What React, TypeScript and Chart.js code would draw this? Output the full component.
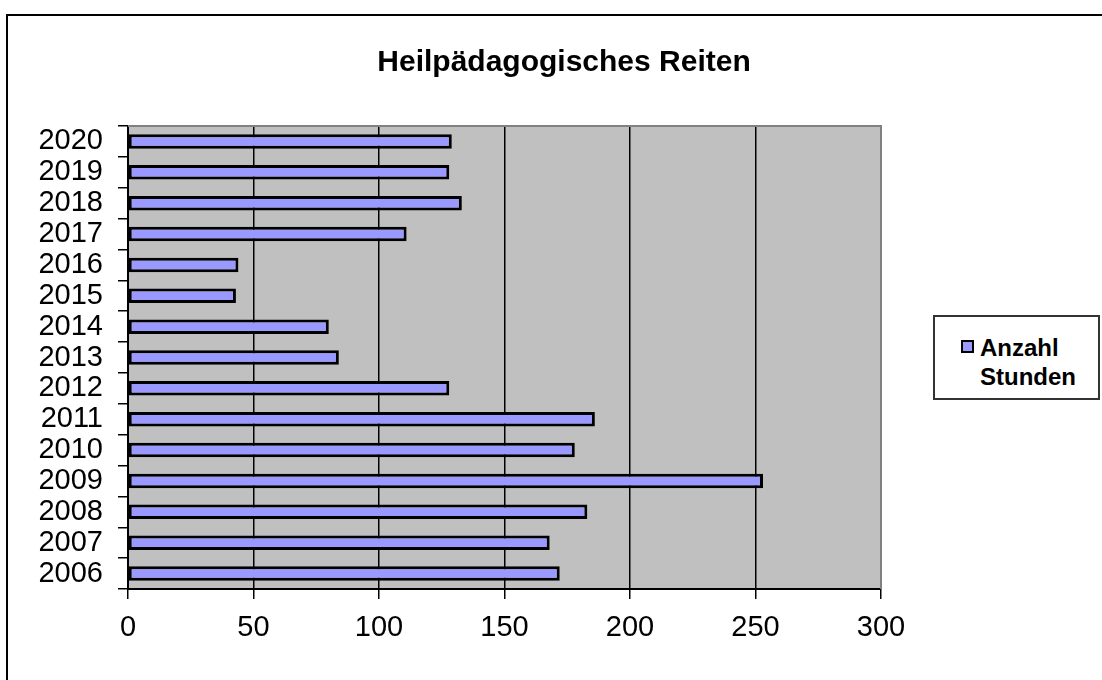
import React, { useEffect, useRef } from "react";
import { Chart, registerables } from "chart.js";

Chart.register(...registerables);

const years: string[] = ["2006", "2007", "2008", "2009", "2010", "2011", "2012", "2013", "2014", "2015", "2016", "2017", "2018", "2019", "2020"];
const stunden: number[] = [172, 168, 183, 253, 178, 186, 128, 84, 80, 43, 44, 111, 133, 128, 129];
const chartTitle = "Heilpädagogisches Reiten";
const seriesLabel = ["Anzahl", "Stunden"];
const xMin = 0;
const xMax = 300;
const xStep = 50;

const FONT = "'Liberation Sans', Arial, Helvetica, sans-serif";

const plotBg = {
  id: "plotBg",
  beforeDraw(chart: any) {
    const { ctx, chartArea } = chart;
    ctx.save();
    ctx.fillStyle = "#C0C0C0";
    ctx.fillRect(chartArea.left, chartArea.top, chartArea.right - chartArea.left, chartArea.bottom - chartArea.top);
    ctx.restore();
  },
  afterDraw(chart: any) {
    const { ctx, chartArea } = chart;
    ctx.save();
    ctx.strokeStyle = "#808080";
    ctx.lineWidth = 2;
    ctx.beginPath();
    ctx.moveTo(chartArea.left, chartArea.top);
    ctx.lineTo(chartArea.right, chartArea.top);
    ctx.lineTo(chartArea.right, chartArea.bottom);
    ctx.stroke();
    ctx.restore();
  },
};

export default function App() {
  const canvasRef = useRef<HTMLCanvasElement | null>(null);

  useEffect(() => {
    const canvas = canvasRef.current;
    if (!canvas) return;
    const chart = new Chart(canvas, {
      type: "bar",
      data: {
        labels: years,
        datasets: [
          {
            label: seriesLabel.join(" "),
            data: stunden,
            backgroundColor: "#9999FF",
            borderColor: "#000000",
            borderWidth: 3,
            borderSkipped: false,
            barPercentage: 0.47,
            categoryPercentage: 1,
          },
        ],
      },
      plugins: [plotBg],
      options: {
        indexAxis: "y",
        responsive: false,
        animation: false,
        devicePixelRatio: 1,
        layout: { padding: { left: 26, right: 0, top: 0, bottom: 0 } },
        plugins: {
          legend: { display: false },
          tooltip: { enabled: false },
          title: {
            display: true,
            text: chartTitle,
            color: "#000",
            font: { family: FONT, size: 30, weight: "bold", lineHeight: 1.2 },
            padding: { top: 45, bottom: 45 },
          },
        },
        scales: {
          x: {
            type: "linear",
            position: "bottom",
            min: xMin,
            max: xMax,
            ticks: {
              stepSize: xStep,
              color: "#000",
              padding: 12,
              font: { family: FONT, size: 29 },
            },
            grid: {
              color: (c: any) => (c.tick && c.tick.value === xMax ? "rgba(0,0,0,0)" : "#000"),
              lineWidth: 1.5,
              tickColor: "#000",
              tickLength: 10,
              drawTicks: true,
            },
            border: { display: true, color: "#000", width: 2 },
            afterFit: (s: any) => {
              s.height = 91;
            },
          },
          y: {
            type: "category",
            position: "left",
            reverse: true,
            ticks: {
              color: "#000",
              padding: 15,
              autoSkip: false,
              font: { family: FONT, size: 29 },
            },
            grid: {
              offset: true,
              drawOnChartArea: false,
              drawTicks: true,
              tickLength: 10,
              color: "#000",
              tickColor: "#000",
              lineWidth: 1.5,
            },
            border: { display: true, color: "#000", width: 2 },
            afterFit: (s: any) => {
              s.width = 102;
            },
          },
          yR: {
            type: "linear",
            position: "right",
            display: true,
            grid: { display: false, drawTicks: false },
            ticks: { display: false },
            border: { display: false },
            afterFit: (s: any) => {
              s.width = 221;
            },
          },
        },
      } as any,
    });
    return () => chart.destroy();
  }, []);

  return (
    <div style={{ position: "fixed", left: 0, top: 0, width: 1102, height: 680, background: "#fff", overflow: "hidden" }}>
      <div
        style={{
          position: "absolute",
          left: 6,
          top: 14,
          width: 1200,
          height: 800,
          borderTop: "2px solid #000",
          borderLeft: "2px solid #000",
          boxSizing: "border-box",
        }}
      />
      <canvas ref={canvasRef} width={1102} height={680} style={{ position: "absolute", left: 0, top: 0, width: 1102, height: 680 }} />
      <div
        style={{
          position: "absolute",
          left: 933,
          top: 315,
          width: 167,
          height: 85,
          border: "2px solid #333",
          boxSizing: "border-box",
          background: "#fff",
        }}
      />
      <div
        style={{
          position: "absolute",
          left: 961,
          top: 340,
          width: 13,
          height: 13,
          background: "#9999FF",
          border: "2px solid #000",
          boxSizing: "border-box",
        }}
      />
      <div
        style={{
          position: "absolute",
          left: 980,
          top: 333,
          fontFamily: FONT,
          fontWeight: "bold",
          fontSize: 24,
          lineHeight: "29px",
          color: "#000",
          whiteSpace: "pre",
        }}
      >
        {seriesLabel[0]}
        <br />
        {seriesLabel[1]}
      </div>
    </div>
  );
}
